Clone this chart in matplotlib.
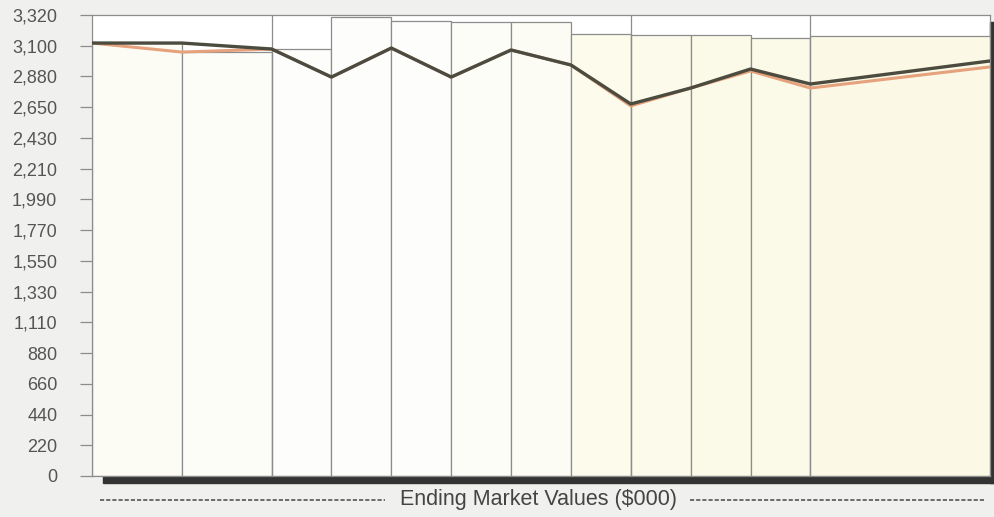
import matplotlib
matplotlib.use('Agg')
import matplotlib.pyplot as plt
from matplotlib.patches import Rectangle
from matplotlib.lines import Line2D

# column edges (widths vary) and bar heights
edges = [0, 1.5, 3, 4, 5, 6, 7, 8, 9, 10, 11, 12, 15]
bar_tops = [3118, 3053, 3075, 3306, 3277, 3270, 3270, 3183, 3176, 3176, 3154, 3169]
bar_colors = ['#fdfcf4', '#fdfdf8', '#fdfdfb', '#fdfdfb', '#fdfdfb', '#fdfdf8',
              '#fdfcf4', '#fcfbec', '#fcfaea', '#fbf9e8', '#fbf9e7', '#fbf9e6']
dividers = [3, 9, 12]

# two series plotted at the column edges
dark_line = [3118, 3118, 3075, 2873, 3082, 2873, 3068, 2960, 2679, 2794, 2931, 2823, 2989]
orange_line = [3118, 3053, 3075, 2873, 3082, 2873, 3068, 2960, 2665, 2794, 2917, 2794, 2946]

yticks = [i * 3320 / 15 for i in range(16)]
ytick_labels = ['0', '220', '440', '660', '880', '1,110', '1,330', '1,550', '1,770',
                '1,990', '2,210', '2,430', '2,650', '2,880', '3,100', '3,320']

W, H = 994, 517
fig = plt.figure(figsize=(W / 100, H / 100), dpi=100)
fig.patch.set_facecolor('#f0f0ee')
ax = fig.add_axes([92 / W, 41 / H, 898 / W, 461 / H])
ax.set_facecolor('white')

widths = [edges[i + 1] - edges[i] for i in range(len(bar_tops))]
ax.bar(edges[:-1], bar_tops, width=widths, align='edge', color=bar_colors,
       edgecolor='#8c8c8c', linewidth=0.9, zorder=2)
for d in dividers:
    ax.axvline(d, color='#8c8c8c', linewidth=0.9, zorder=2)

ax.plot(edges, orange_line, color='#e5a27c', linewidth=2.2, zorder=3)
ax.plot(edges, dark_line, color='#4b4b3f', linewidth=2.4, zorder=4)

ax.set_xlim(0, 15)
ax.set_ylim(0, 3320)
ax.set_xticks([])
ax.set_yticks(yticks)
ax.set_yticklabels(ytick_labels, fontsize=13, color='#555555',
                   family=['Liberation Sans', 'DejaVu Sans'])
ax.tick_params(axis='y', length=9, width=0.9, color='#8c8c8c', pad=16)
for s in ax.spines.values():
    s.set_color('#8c8c8c')
    s.set_linewidth(0.9)

# drop shadow along bottom and right
ax.add_patch(Rectangle((11 / 898, -7 / 461), 1 - 11 / 898 + 5 / 898, 7 / 461,
                       transform=ax.transAxes, color='#333333', clip_on=False, zorder=1))
ax.add_patch(Rectangle((1, -7 / 461), 5 / 898, 1 - 0 / 461,
                       transform=ax.transAxes, color='#333333', clip_on=False, zorder=1))

# axis caption with dashed rules
y = 1 - 500 / H
fig.add_artist(Line2D([100 / W, 385 / W], [y, y], transform=fig.transFigure,
                      color='#555555', linewidth=1.2, linestyle=(0, (2.5, 1.2))))
fig.add_artist(Line2D([690 / W, 985 / W], [y, y], transform=fig.transFigure,
                      color='#555555', linewidth=1.2, linestyle=(0, (2.5, 1.2))))
fig.text(538 / W, y, 'Ending Market Values ($000)', ha='center', va='center',
         fontsize=15.5, color='#444444',
         family=['Liberation Sans Narrow', 'Liberation Sans', 'DejaVu Sans'])

fig.savefig('out.png', dpi=100, facecolor=fig.get_facecolor())
